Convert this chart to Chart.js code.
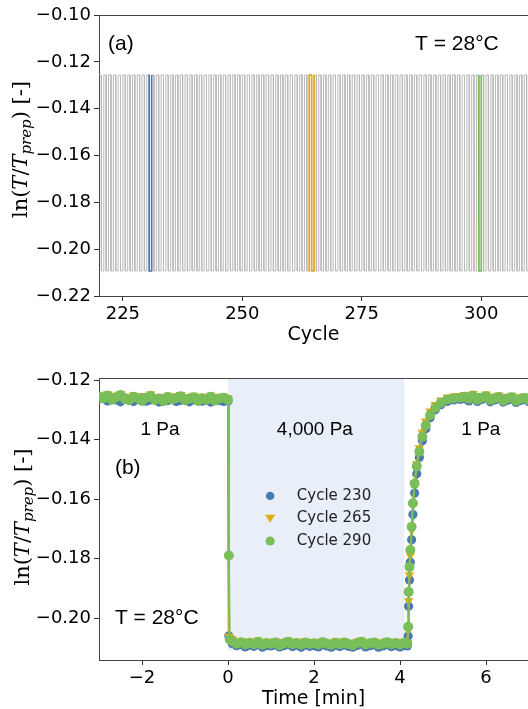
<!DOCTYPE html>
<html>
<head>
<meta charset="utf-8">
<title>Relative modulus over loading cycles</title>
<script src="https://cdn.jsdelivr.net/npm/chart.js@4.4.1/dist/chart.umd.min.js"></script>
<style>
  html, body { margin: 0; padding: 0; background: #fff; overflow: hidden; }
  #wrap { position: relative; width: 528px; height: 709px; overflow: hidden; }
  canvas { position: absolute; left: 0; }
  #cycles { top: 0; }
  #step { top: 350px; }
</style>
</head>
<body>
<div id="wrap">
  <canvas id="cycles" width="540" height="350"></canvas>
  <canvas id="step" width="540" height="359"></canvas>
</div>
<script>
// ---------- panel (a): all cycles ----------
const cycleMin = 220;
const cycleMax = 310;
const cycleTicks = [225, 250, 275, 300];
const cycleTicksY = [-0.22, -0.20, -0.18, -0.16, -0.14, -0.12, -0.10];
const levelHigh = -0.1256;   // at 1 Pa
const levelLow = -0.2093;    // at 4,000 Pa
// one oscillation: hold at 1 Pa, step up to 4,000 Pa half way, back at the next cycle
const cyclePhase = [0, 0.5, 0.5, 1];
const cycleLevel = [levelHigh, levelHigh, levelLow, levelLow];
// stretches of the wave picked out in colour
const highlightFrom = [230.45, 263.95, 299.45];
const highlightTo = [231.05, 265.05, 300.05];

// ---------- panel (b): single cycles against time ----------
const timeMin = [
  -3.0, -2.9, -2.8, -2.7, -2.6, -2.5, -2.4, -2.3, -2.2, -2.1,
  -2.0, -1.9, -1.8, -1.7, -1.6, -1.5, -1.4, -1.3, -1.2, -1.1,
  -1.0, -0.9, -0.8, -0.7, -0.6, -0.5, -0.4, -0.3, -0.2, -0.1,
  0.0,
  0.02, 0.04,
  0.1, 0.2, 0.3, 0.4, 0.5, 0.6, 0.7, 0.8, 0.9, 1.0,
  1.1, 1.2, 1.3, 1.4, 1.5, 1.6, 1.7, 1.8, 1.9, 2.0,
  2.1, 2.2, 2.3, 2.4, 2.5, 2.6, 2.7, 2.8, 2.9, 3.0,
  3.1, 3.2, 3.3, 3.4, 3.5, 3.6, 3.7, 3.8, 3.9, 4.0,
  4.1,
  4.17, 4.19, 4.20, 4.22, 4.24, 4.27, 4.30, 4.34, 4.39, 4.45,
  4.52, 4.60, 4.70, 4.82, 4.95, 5.10, 5.25, 5.40,
  5.5, 5.6, 5.7, 5.8, 5.9, 6.0, 6.1, 6.2, 6.3, 6.4,
  6.5, 6.6, 6.7, 6.8, 6.9, 7.0
];
const cycle230 = [
  -0.1263, -0.1258, -0.1270, -0.1262, -0.1267, -0.1273, -0.1260, -0.1266, -0.1272, -0.1264,
  -0.1259, -0.1271, -0.1267, -0.1262, -0.1274, -0.1265, -0.1269, -0.1261, -0.1272, -0.1268,
  -0.1263, -0.1273, -0.1266, -0.1262, -0.1271, -0.1267, -0.1274, -0.1263, -0.1269, -0.1272,
  -0.1270,
  -0.2060, -0.2068,
  -0.2086, -0.2093, -0.2089, -0.2097, -0.2091, -0.2095, -0.2088, -0.2098, -0.2092, -0.2094,
  -0.2090, -0.2097, -0.2093, -0.2088, -0.2096, -0.2091, -0.2098, -0.2090, -0.2095, -0.2093,
  -0.2097, -0.2089, -0.2094, -0.2098, -0.2091, -0.2096, -0.2090, -0.2095, -0.2098, -0.2092,
  -0.2088, -0.2097, -0.2093, -0.2090, -0.2098, -0.2094, -0.2089, -0.2096, -0.2092, -0.2097,
  -0.2092,
  -0.2094, -0.2060, -0.1960, -0.1872, -0.1812, -0.1737, -0.1652, -0.1580, -0.1515, -0.1460,
  -0.1404, -0.1364, -0.1327, -0.1300, -0.1283, -0.1272, -0.1267, -0.1265,
  -0.1262, -0.1270, -0.1259, -0.1272, -0.1265, -0.1261, -0.1273, -0.1267, -0.1263, -0.1274,
  -0.1268, -0.1264, -0.1275, -0.1269, -0.1266, -0.1273
];
const cycle265 = [
  -0.1250, -0.1256, -0.1247, -0.1258, -0.1252, -0.1246, -0.1257, -0.1261, -0.1251, -0.1255,
  -0.1262, -0.1253, -0.1248, -0.1259, -0.1256, -0.1263, -0.1252, -0.1258, -0.1254, -0.1249,
  -0.1261, -0.1257, -0.1252, -0.1262, -0.1255, -0.1259, -0.1251, -0.1262, -0.1256, -0.1254,
  -0.1260,
  -0.2062, -0.2067,
  -0.2070, -0.2080, -0.2076, -0.2084, -0.2078, -0.2083, -0.2075, -0.2085, -0.2079, -0.2082,
  -0.2077, -0.2086, -0.2080, -0.2075, -0.2083, -0.2079, -0.2085, -0.2077, -0.2082, -0.2080,
  -0.2084, -0.2076, -0.2081, -0.2085, -0.2078, -0.2083, -0.2077, -0.2082, -0.2086, -0.2079,
  -0.2075, -0.2084, -0.2080, -0.2077, -0.2085, -0.2081, -0.2076, -0.2083, -0.2079, -0.2084,
  -0.2079,
  -0.2083, -0.2042, -0.1942, -0.1855, -0.1790, -0.1705, -0.1620, -0.1545, -0.1482, -0.1428,
  -0.1376, -0.1338, -0.1305, -0.1283, -0.1268, -0.1258, -0.1254, -0.1253,
  -0.1249, -0.1257, -0.1246, -0.1259, -0.1253, -0.1248, -0.1260, -0.1255, -0.1251, -0.1262,
  -0.1256, -0.1252, -0.1263, -0.1257, -0.1254, -0.1261
];
const cycle290 = [
  -0.1255, -0.1262, -0.1252, -0.1266, -0.1258, -0.1250, -0.1264, -0.1268, -0.1256, -0.1261,
  -0.1270, -0.1259, -0.1253, -0.1267, -0.1262, -0.1271, -0.1257, -0.1265, -0.1260, -0.1254,
  -0.1268, -0.1263, -0.1258, -0.1270, -0.1261, -0.1266, -0.1256, -0.1269, -0.1262, -0.1259,
  -0.1266,
  -0.1790, -0.2072,
  -0.2079, -0.2086, -0.2081, -0.2089, -0.2083, -0.2088, -0.2080, -0.2090, -0.2084, -0.2087,
  -0.2082, -0.2091, -0.2085, -0.2080, -0.2088, -0.2084, -0.2090, -0.2082, -0.2087, -0.2085,
  -0.2089, -0.2081, -0.2086, -0.2090, -0.2083, -0.2088, -0.2082, -0.2087, -0.2091, -0.2084,
  -0.2080, -0.2089, -0.2085, -0.2082, -0.2090, -0.2086, -0.2081, -0.2088, -0.2084, -0.2089,
  -0.2083,
  -0.2086, -0.2029, -0.1912, -0.1828, -0.1771, -0.1693, -0.1614, -0.1548, -0.1490, -0.1440,
  -0.1390, -0.1352, -0.1318, -0.1293, -0.1276, -0.1265, -0.1261, -0.1259,
  -0.1256, -0.1263, -0.1252, -0.1266, -0.1259, -0.1254, -0.1267, -0.1261, -0.1257, -0.1269,
  -0.1262, -0.1258, -0.1270, -0.1263, -0.1260, -0.1268
];
const seriesLabels = ['Cycle 230', 'Cycle 265', 'Cycle 290'];
const timeTicks = [-2, 0, 2, 4, 6];
const stepTicksY = [-0.20, -0.18, -0.16, -0.14, -0.12];
const stepYMin = -0.2141;
const stepYMax = -0.1193;
// 4,000 Pa window
const stressOn = 0;
const stressOff = 4.1;
const shadeBottom = -0.2108;
const stressLabels = ['1 Pa', '4,000 Pa', '1 Pa'];
const stressLabelTime = [-1.58, 2.02, 5.88];
const stressLabelLevel = -0.1368;

const colors = ['#4a79b1', '#e3aa14', '#79be59'];
const waveGray = '#b9b9b9';
const axisColor = '#444';
const sans = '"DejaVu Sans", sans-serif';
const arial = '"Liberation Sans", Arial, sans-serif';
const serif = '"DejaVu Serif", serif';

// ---------- helpers ----------
const fmtFixed = v => (v < 0 ? '\u2212' : '') + Math.abs(v).toFixed(2);
const fmtInt = v => (v < 0 ? '\u2212' : '') + Math.abs(v);

function xAxis(min, max, ticks, height, fmt) {
  return {
    type: 'linear', min, max,
    afterBuildTicks: s => { s.ticks = ticks.map(v => ({ value: v })); },
    afterFit: s => { s.height = height; },
    grid: { drawOnChartArea: false, drawTicks: true, tickLength: 5, tickColor: '#333', tickWidth: 1 },
    border: { display: true, color: axisColor, width: 1 },
    ticks: { autoSkip: false, maxRotation: 0, padding: 3, color: '#000', font: { family: sans, size: 18 }, callback: fmt }
  };
}

function yAxis(min, max, ticks, width) {
  return {
    type: 'linear', min, max,
    afterBuildTicks: s => { s.ticks = ticks.map(v => ({ value: v })); },
    afterFit: s => { s.width = width; },
    grid: { drawOnChartArea: false, drawTicks: true, tickLength: 5, tickColor: '#333', tickWidth: 1 },
    border: { display: true, color: axisColor, width: 1 },
    ticks: { autoSkip: false, padding: 3, color: '#000', font: { family: sans, size: 18 }, callback: fmtFixed }
  };
}

// top and right spines
const framePlugin = {
  id: 'frame',
  afterDraw(chart) {
    const { ctx, chartArea: a } = chart;
    ctx.save();
    ctx.strokeStyle = axisColor;
    ctx.lineWidth = 1;
    ctx.beginPath();
    ctx.moveTo(a.left, Math.round(a.top) + 0.5);
    ctx.lineTo(a.right, Math.round(a.top) + 0.5);
    ctx.moveTo(Math.round(a.right) - 0.5, a.top);
    ctx.lineTo(Math.round(a.right) - 0.5, a.bottom);
    ctx.stroke();
    ctx.restore();
  }
};

// draws a run of differently styled pieces centred on (cx, cy)
function drawRich(ctx, parts, cx, cy, vertical) {
  ctx.save();
  ctx.translate(cx, cy);
  if (vertical) ctx.rotate(-Math.PI / 2);
  ctx.fillStyle = '#000';
  ctx.textBaseline = 'alphabetic';
  let total = 0;
  parts.forEach(p => { ctx.font = p.font; p.w = ctx.measureText(p.text).width; total += p.w; });
  let x = -total / 2;
  parts.forEach(p => { ctx.font = p.font; ctx.fillText(p.text, x, 7 + (p.dy || 0)); x += p.w; });
  ctx.restore();
}

function yTitleParts(size) {
  const up = `${size}px ${serif}`;
  const it = `italic ${size}px ${serif}`;
  const sub = `italic ${Math.round(size * 0.7)}px ${serif}`;
  return [
    { text: 'ln(', font: up },
    { text: 'T', font: it },
    { text: '/', font: up },
    { text: 'T', font: it },
    { text: 'prep', font: sub, dy: 4 },
    { text: ')', font: up },
    { text: ' [-]', font: up }
  ];
}

// text placed by axes fraction (fx, fy) or by data value (x, y)
function textPlugin(id, items) {
  return {
    id,
    afterDraw(chart) {
      const { ctx, chartArea: a, scales } = chart;
      ctx.save();
      ctx.fillStyle = '#000';
      ctx.textBaseline = 'middle';
      items.forEach(it => {
        const px = it.fx !== undefined ? a.left + it.fx * (a.right - a.left) : scales.x.getPixelForValue(it.x);
        const py = it.fy !== undefined ? a.top + it.fy * (a.bottom - a.top) : scales.y.getPixelForValue(it.y);
        ctx.font = `${it.size}px ${it.family}`;
        ctx.textAlign = it.align || 'left';
        ctx.fillText(it.text, px, py);
      });
      ctx.restore();
    }
  };
}

function titlesPlugin(id, xTitle, yCenterX, yOffset) {
  return {
    id,
    afterDraw(chart) {
      const { ctx, chartArea: a } = chart;
      ctx.save();
      ctx.fillStyle = '#000';
      ctx.font = `19px ${sans}`;
      ctx.textAlign = 'center';
      ctx.textBaseline = 'middle';
      ctx.fillText(xTitle, (a.left + 528) / 2, a.bottom + 39);
      ctx.restore();
      drawRich(ctx, yTitleParts(21), yCenterX, (a.top + a.bottom) / 2 + yOffset, true);
    }
  };
}

// ---------- panel (a) ----------
const wave = [];
for (let c = cycleMin; c < cycleMax; c++) {
  cyclePhase.forEach((p, i) => wave.push({ x: c + p, y: cycleLevel[i] }));
}
const levelAt = x => (x - Math.floor(x) < 0.5 ? levelHigh : levelLow);
function waveSlice(from, to) {
  const inner = wave.filter(p => p.x > from && p.x < to);
  return [{ x: from, y: levelAt(from) }, ...inner, { x: to, y: levelAt(to) }];
}

const cycleSets = highlightFrom.map((from, i) => ({
  data: waveSlice(from, highlightTo[i]),
  borderColor: colors[i],
  borderWidth: 1.6,
  pointRadius: 0,
  order: 1
}));
cycleSets.push({ data: wave, borderColor: waveGray, borderWidth: 1, pointRadius: 0, order: 2 });

new Chart(document.getElementById('cycles'), {
  type: 'line',
  data: { datasets: cycleSets },
  options: {
    responsive: false,
    animation: false,
    events: [],
    layout: { padding: { top: 15, right: 11, left: 0, bottom: 0 } },
    scales: {
      x: xAxis(cycleMin, cycleMax, cycleTicks, 54, fmtInt),
      y: yAxis(-0.22, -0.10, cycleTicksY, 99)
    },
    plugins: { legend: { display: false }, tooltip: { enabled: false } }
  },
  plugins: [
    framePlugin,
    titlesPlugin('titlesA', 'Cycle', 20, -6),
    textPlugin('notesA', [
      { text: '(a)', fx: 0.021, fy: 0.103, size: 21, family: arial },
      { text: 'T = 28\u00b0C', fx: 0.735, fy: 0.103, size: 21, family: arial }
    ])
  ]
});

// ---------- panel (b) ----------
const stepSeries = [cycle230, cycle265, cycle290];
const pointStyles = ['circle', 'triangle', 'circle'];
const pointRotations = [0, 180, 0];
const pointSizes = [4.6, 5.5, 5];
const drawOrder = [3, 2, 1];

const stepSets = stepSeries.map((vals, i) => ({
  label: seriesLabels[i],
  data: timeMin.map((t, k) => ({ x: t, y: vals[k] })),
  borderColor: colors[i],
  backgroundColor: colors[i],
  borderWidth: 2,
  pointStyle: pointStyles[i],
  pointRotation: pointRotations[i],
  pointRadius: pointSizes[i],
  pointBorderWidth: 0,
  order: drawOrder[i]
}));

const shadePlugin = {
  id: 'shade',
  beforeDatasetsDraw(chart) {
    const { ctx, chartArea: a, scales } = chart;
    const x0 = scales.x.getPixelForValue(stressOn);
    const x1 = scales.x.getPixelForValue(stressOff);
    const y1 = scales.y.getPixelForValue(shadeBottom);
    ctx.save();
    ctx.fillStyle = '#e9eff8';
    ctx.fillRect(x0, a.top, x1 - x0, y1 - a.top);
    ctx.restore();
  }
};

// legend drawn inside the axes, markers styled like the datasets
const legendRows = [0.418, 0.496, 0.578];
const legendPlugin = {
  id: 'innerLegend',
  afterDraw(chart) {
    const { ctx, chartArea: a } = chart;
    const w = a.right - a.left, h = a.bottom - a.top;
    ctx.save();
    seriesLabels.forEach((label, i) => {
      const mx = a.left + 0.398 * w;
      const my = a.top + legendRows[i] * h;
      const r = pointSizes[i] * 0.92;
      ctx.fillStyle = colors[i];
      ctx.beginPath();
      if (pointStyles[i] === 'triangle') {
        ctx.moveTo(mx - r, my - r * 0.6);
        ctx.lineTo(mx + r, my - r * 0.6);
        ctx.lineTo(mx, my + r * 0.95);
        ctx.closePath();
      } else {
        ctx.arc(mx, my, r, 0, Math.PI * 2);
      }
      ctx.fill();
      ctx.fillStyle = '#222';
      ctx.font = `15px ${sans}`;
      ctx.textAlign = 'left';
      ctx.textBaseline = 'middle';
      ctx.fillText(label, a.left + 0.46 * w, my);
    });
    ctx.restore();
  }
};

new Chart(document.getElementById('step'), {
  type: 'line',
  data: { datasets: stepSets },
  options: {
    responsive: false,
    animation: false,
    events: [],
    layout: { padding: { top: 28, right: 11, left: 0, bottom: 0 } },
    scales: {
      x: xAxis(-3, 7, timeTicks, 49, fmtInt),
      y: yAxis(stepYMin, stepYMax, stepTicksY, 99)
    },
    plugins: { legend: { display: false }, tooltip: { enabled: false } }
  },
  plugins: [
    shadePlugin,
    framePlugin,
    legendPlugin,
    titlesPlugin('titlesB', 'Time [min]', 22, -2),
    textPlugin('notesB', [
      ...stressLabels.map((t, i) => ({ text: t, x: stressLabelTime[i], y: stressLabelLevel, size: 19, family: arial, align: 'center' })),
      { text: '(b)', fx: 0.037, fy: 0.319, size: 21, family: arial },
      { text: 'T = 28\u00b0C', fx: 0.037, fy: 0.851, size: 21, family: arial }
    ])
  ]
});
</script>
</body>
</html>
